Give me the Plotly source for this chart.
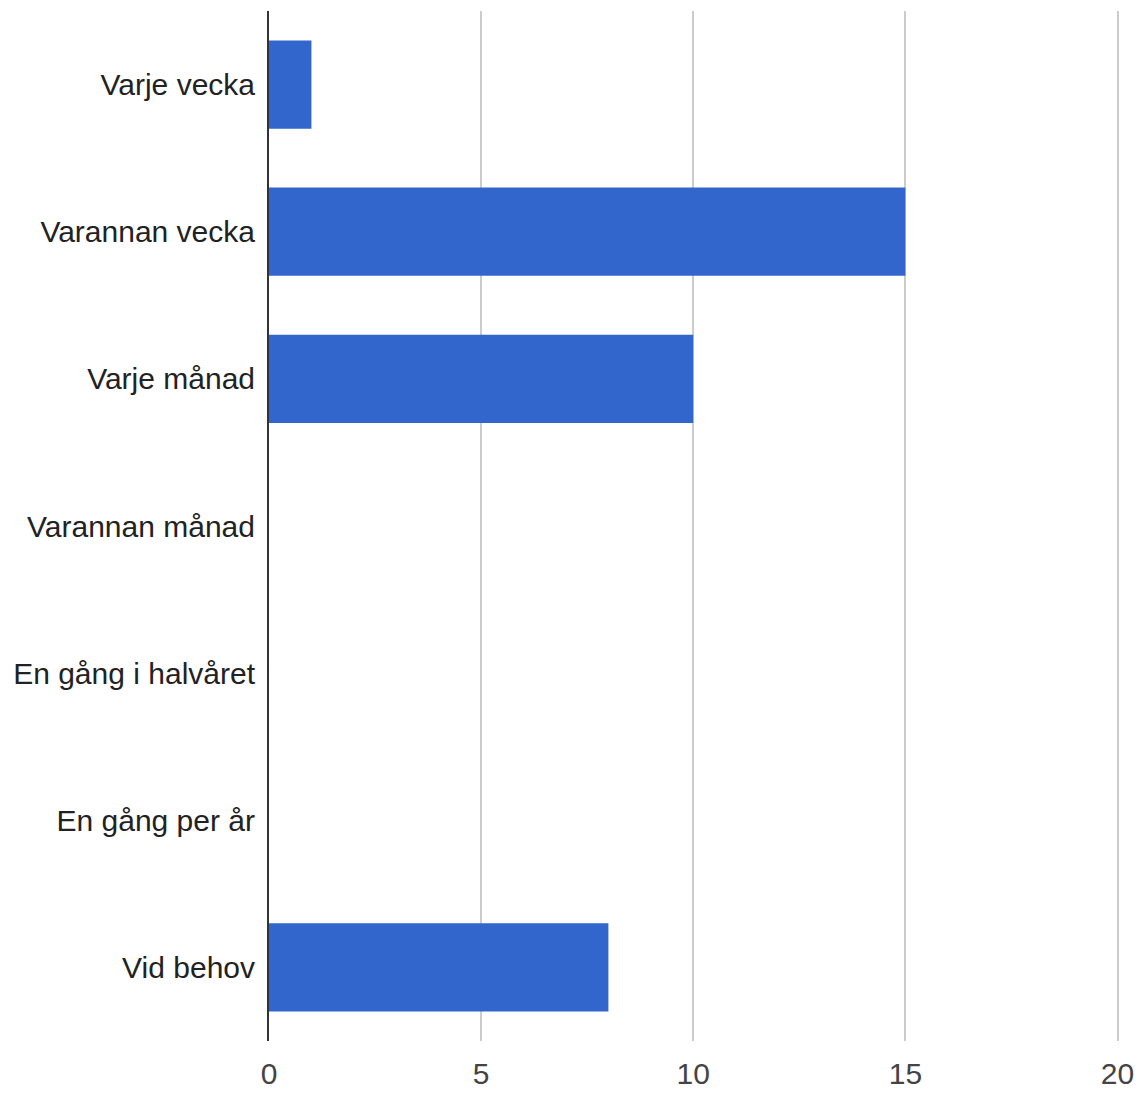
import plotly.graph_objects as go

categories = ['Varje vecka', 'Varannan vecka', 'Varje månad', 'Varannan månad',
              'En gång i halvåret', 'En gång per år', 'Vid behov']
counts = [1, 15, 10, 0, 0, 0, 8]
x_ticks = [0, 5, 10, 15, 20]

fig = go.Figure(go.Bar(
    x=counts, y=categories, orientation='h',
    marker=dict(color='#3366cc', line=dict(width=0)),
    hoverinfo='x+y'
))

# the page body keeps its 8px margin, so the figure is sized to fit inside it
fig.update_layout(
    width=1126, height=1082,
    paper_bgcolor='white', plot_bgcolor='white',
    margin=dict(l=261, r=0, t=3, b=41),
    bargap=0.4,
    showlegend=False,
    font=dict(family='Liberation Sans, Arial', size=30, color='#222222'),
)
fig.update_xaxes(
    range=[0, 20.2], tickvals=x_ticks,
    showgrid=True, gridcolor='#cccccc', gridwidth=2,
    zeroline=False, showline=False,
    ticks='', ticklabelstandoff=12, ticklabeloverflow='allow',
    tickfont=dict(color='#444444'),
)
fig.update_yaxes(
    autorange='reversed',
    showgrid=False, zeroline=False,
    showline=True, linecolor='#333333', linewidth=2,
    ticks='', ticklabelstandoff=6,
)

fig.write_html("out.html", config={'displayModeBar': False})
